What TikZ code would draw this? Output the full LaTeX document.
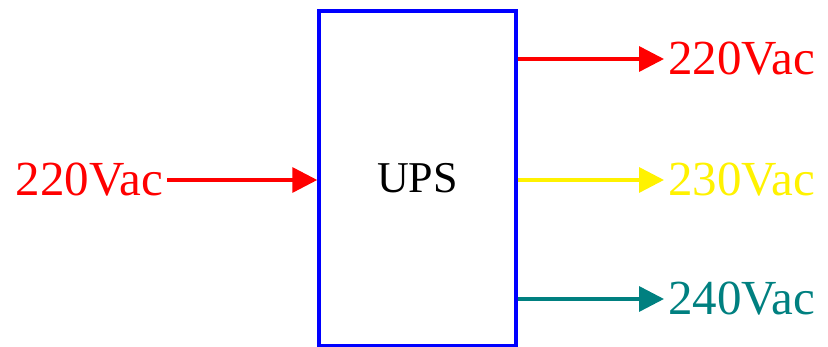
\documentclass[tikz,border=0pt]{standalone}
\usepackage{fontspec}
\setmainfont{Liberation Serif}
\usetikzlibrary{arrows.meta}
\usetikzlibrary{positioning}
\definecolor{tealout}{RGB}{0,128,128}

\begin{document}
\begin{tikzpicture}[x=1pt, y=1pt]
				\tikzstyle{upsnode}=[draw=blue, line width=3.5pt, minimum width=197pt, minimum height=335pt, inner sep=0pt, fill=none, text=black]
				\tikzstyle{voltnode}=[inner sep=4pt, font=\fontsize{49}{52}\selectfont]
				\tikzstyle{feed}=[-{Triangle[length=25pt,width=25pt]}, line width=3.5pt]
				
				\useasboundingbox (0,0) rectangle (828,347);
				
				\node (ups) at (417.5,168.5) [upsnode] {};
				\node (upsT) at (ups.center) [font=\fontsize{44}{48}\selectfont] {UPS};
				
				% input side
				\node (in) at (167,167) [voltnode, anchor=east, text=red] {220Vac};
				\draw [feed, red] (in.east) -- (ups.west |- in.east);
				
				% output side
				\node (out1) at (664,288) [voltnode, anchor=west, text=red] {220Vac};
				\node (out2) at (664,167) [voltnode, anchor=west, text=yellow] {230Vac};
				\node (out3) at (664,48) [voltnode, anchor=west, text=tealout] {240Vac};
				
				\draw [feed, red] (ups.east |- out1.west) -- (out1.west);
				\draw [feed, yellow] (ups.east |- out2.west) -- (out2.west);
				\draw [feed, tealout] (ups.east |- out3.west) -- (out3.west);
				\end{tikzpicture}
\end{document}
